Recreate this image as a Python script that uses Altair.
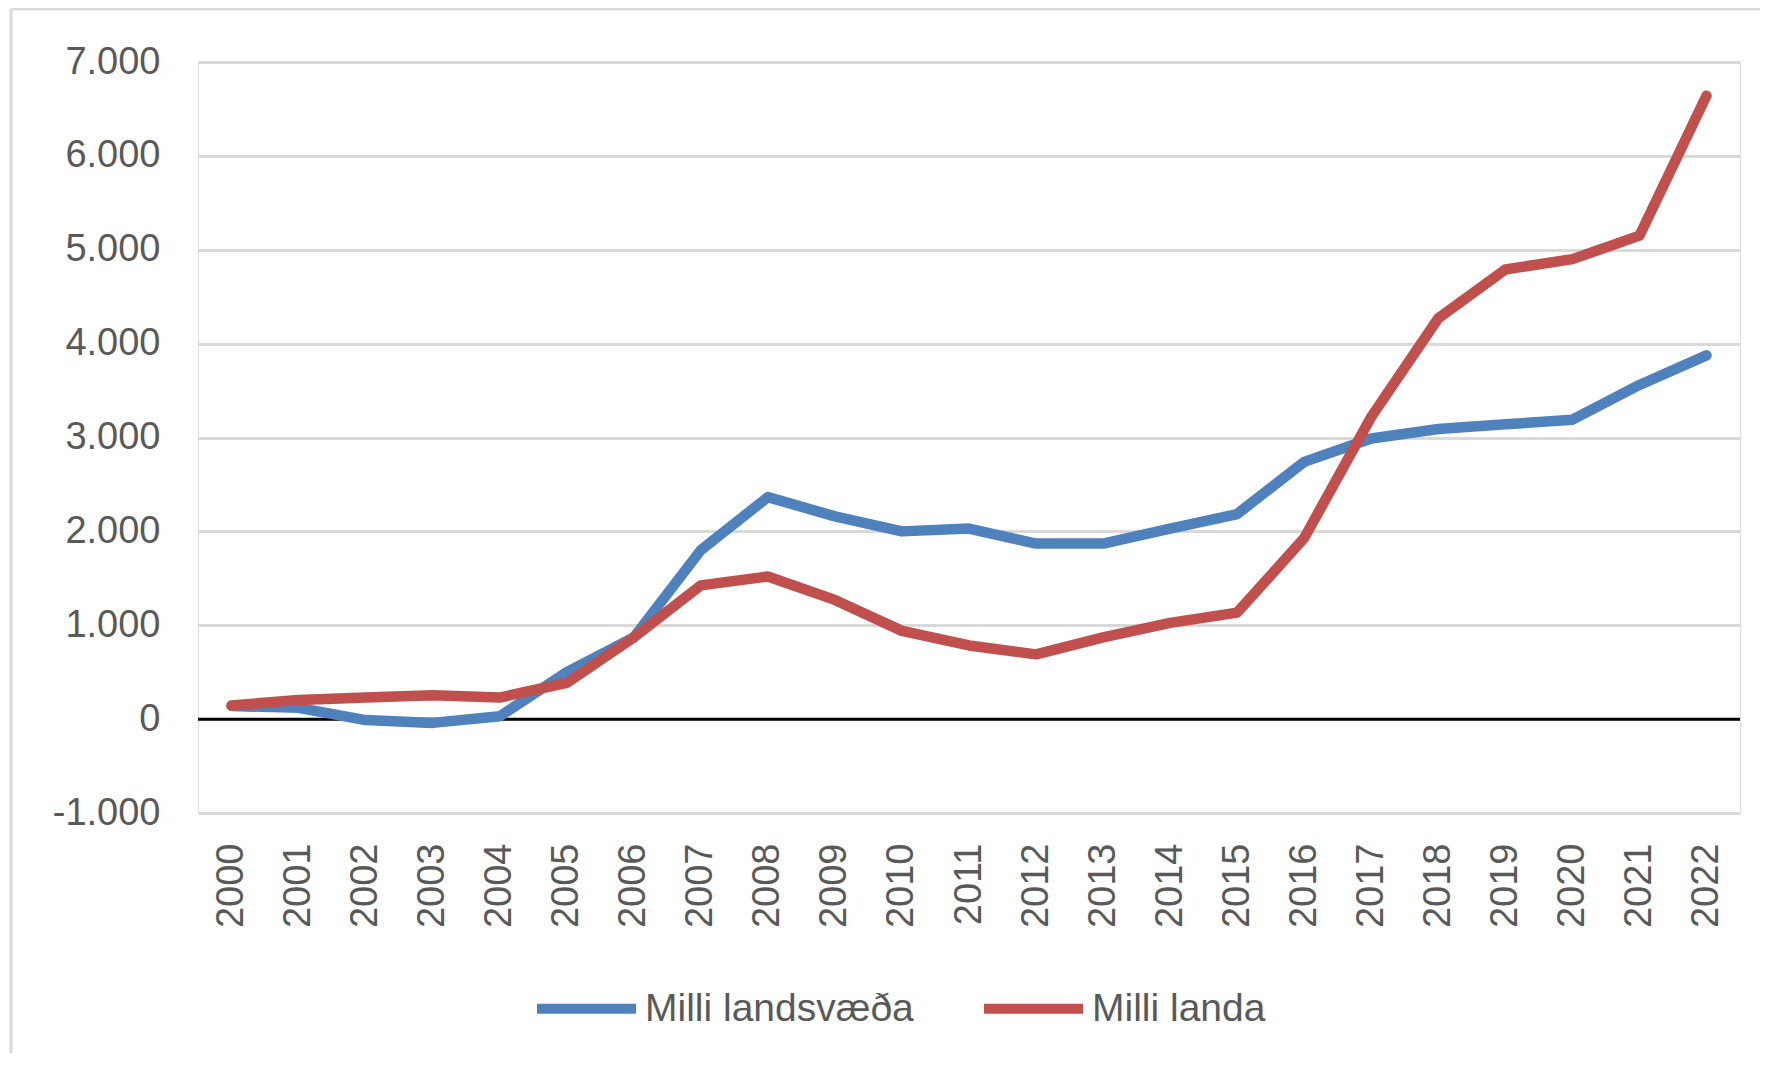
import altair as alt
import pandas as pd

years = [str(y) for y in range(2000, 2023)]
landsvaeda = [140, 120, -10, -40, 30, 500, 870, 1800, 2365, 2160, 2000, 2030,
              1870, 1870, 2030, 2185, 2740, 2990, 3090, 3140, 3190, 3560, 3875]
landa = [145, 205, 230, 255, 230, 385, 870, 1425, 1520, 1270, 940, 785,
         690, 870, 1025, 1135, 1930, 3220, 4270, 4790, 4900, 5150, 6640]
series_names = ["Milli landsvæða", "Milli landa"]
series_colors = ["#4F81BD", "#C0504D"]
y_ticks = list(range(-1000, 7001, 1000))

rows = []
for name, vals in zip(series_names, [landsvaeda, landa]):
    for y, v in zip(years, vals):
        rows.append({"year": y, "value": v, "series": name})
df = pd.DataFrame(rows)

FONT = "Liberation Sans"
TXT = "#595959"
GRID = "#D9D9D9"

lines = alt.Chart(df).mark_line(strokeWidth=10.5, strokeCap="round", strokeJoin="round").encode(
    x=alt.X("year:O", title=None, sort=years,
            axis=alt.Axis(labelAngle=-90, labelFontSize=38, labelColor=TXT, labelFont=FONT,
                          ticks=False, domain=False, labelPadding=30, grid=False)),
    y=alt.Y("value:Q", title=None,
            scale=alt.Scale(domain=[-1000, 7000], nice=False, zero=False),
            axis=alt.Axis(values=y_ticks, labelFontSize=38, labelColor=TXT, labelFont=FONT,
                          ticks=False, domain=False, labelPadding=38,
                          grid=True, gridColor=GRID, gridWidth=3,
                          labelExpr="datum.value < 0 ? '-' + replace(format(-datum.value, ','), ',', '.') : replace(format(datum.value, ','), ',', '.')")),
    color=alt.Color("series:N", sort=series_names,
                    scale=alt.Scale(domain=series_names, range=series_colors),
                    legend=alt.Legend(title=None, orient="none", direction="horizontal",
                                      legendX=334, legendY=892,
                                      symbolType="stroke", symbolSize=9801, symbolStrokeWidth=10,
                                      labelFontSize=39, labelColor=TXT, labelFont=FONT,
                                      labelOffset=4, columnPadding=50, labelLimit=600)),
)

zero = alt.Chart(pd.DataFrame({"z": [0]})).mark_rule(color="black", strokeWidth=3).encode(
    y=alt.datum(0)
)

one = pd.DataFrame({"a": [0]})
frame_left = alt.Chart(one).mark_rule(color=GRID, strokeWidth=3).encode(
    x=alt.value(-187), y=alt.value(-53), y2=alt.value(1000)
)
frame_top = alt.Chart(one).mark_rule(color=GRID, strokeWidth=3).encode(
    x=alt.value(-187), x2=alt.value(1580), y=alt.value(-53)
)

chart = alt.layer(frame_left, frame_top, zero, lines).properties(
    width=1542, height=751,
    autosize=alt.AutoSizeParams(type="none"),
    padding={"left": 190, "top": 54, "right": 20, "bottom": 240},
).configure_view(stroke=None).configure(background="white")

chart.save("out.html", embed_options={"renderer": "svg", "actions": False})
